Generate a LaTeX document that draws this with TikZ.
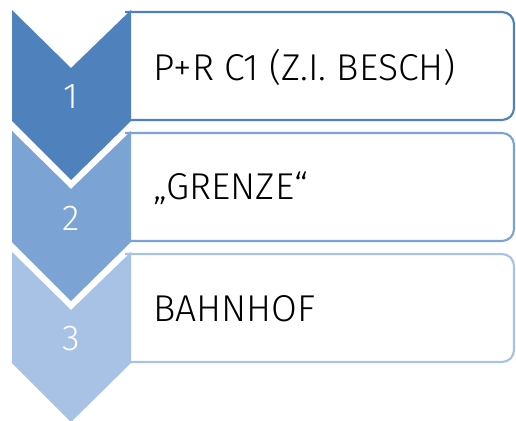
\documentclass[tikz,border=0pt]{standalone}
\usepackage{fontspec}
\setmainfont{Fira Sans}[UprightFont=* Light]
\usepackage{tikz}

\definecolor{stepone}{RGB}{79,129,189}
\definecolor{steptwo}{RGB}{123,163,211}
\definecolor{stepthree}{RGB}{167,194,228}

\begin{document}
\begin{tikzpicture}[x=0.75pt,y=-0.75pt,
  num/.style={text=white,font=\fontsize{27}{30}\selectfont},
  stop/.style={anchor=west,inner sep=0pt,text=black,font=\fontsize{28}{32}\selectfont},
  frame/.style={line width=1.6pt,fill=white,rounded corners=9pt}]
\useasboundingbox (0,0) rectangle (516,420);
\foreach \i/\txt/\col in {1/{P+R C1 (Z.I. BESCH)}/stepone,2/{„GRENZE“}/steptwo,3/{BAHNHOF}/stepthree}{
  \pgfmathsetmacro\t{10+121*(\i-1)}
  % box with rounded right side
  \draw[frame,draw=\col] (125,\t+2) -- (514,\t+2) -- (514,\t+110) -- (125,\t+110);
  % chevron
  \fill[\col] (12,\t) -- (71,\t+58) -- (131,\t) -- (131,\t+111) -- (71,\t+170) -- (12,\t+111) -- cycle;
  \node[num] (n\i) at (71,\t+87) {\i};
  \node[stop] (s\i) at (153,\t+57) {\txt};
}
\end{tikzpicture}
\end{document}
